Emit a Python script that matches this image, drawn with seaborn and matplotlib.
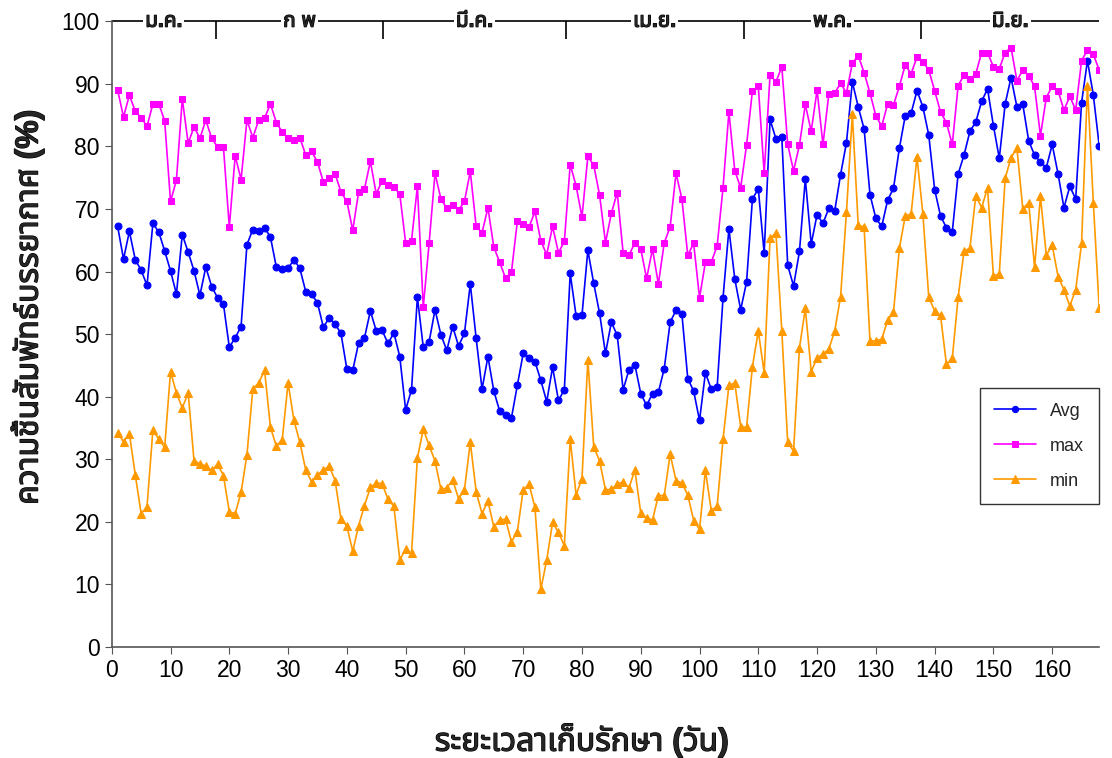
import numpy as np
import pandas as pd
import matplotlib
matplotlib.use("Agg")
import matplotlib.pyplot as plt
import matplotlib.patheffects as pe
import seaborn as sns

days = list(range(1, 169))

avg_rh = [
    67.2, 62.0, 66.4, 61.9, 60.2, 57.8, 67.7, 66.3, 63.3, 60.1,
    56.4, 65.9, 63.1, 60.1, 56.2, 60.7, 57.6, 55.8, 54.8, 47.9,
    49.4, 51.2, 64.3, 66.7, 66.5, 67.0, 65.5, 60.7, 60.4, 60.5,
    61.9, 60.5, 56.8, 56.4, 55.0, 51.1, 52.6, 51.6, 50.1, 44.4,
    44.2, 48.6, 49.4, 53.7, 50.5, 50.6, 48.5, 50.2, 46.4, 37.9,
    41.1, 55.9, 47.9, 48.8, 53.9, 49.9, 47.4, 51.2, 48.1, 50.1,
    58.0, 49.3, 41.2, 46.4, 40.9, 37.7, 37.0, 36.6, 41.8, 46.9,
    46.2, 45.6, 42.6, 39.2, 44.7, 39.4, 41.1, 59.7, 52.9, 53.0,
    63.4, 58.1, 53.3, 46.9, 51.9, 49.8, 41.1, 44.3, 45.1, 40.5,
    38.6, 40.5, 40.7, 44.5, 51.9, 53.8, 53.2, 42.9, 40.9, 36.2,
    43.8, 41.2, 41.6, 55.8, 66.8, 58.8, 53.9, 58.3, 71.6, 73.2,
    62.9, 84.3, 81.2, 81.5, 61.0, 57.7, 63.2, 74.8, 64.4, 69.1,
    67.7, 70.1, 69.7, 75.5, 80.6, 90.3, 86.3, 82.8, 72.3, 68.5,
    67.2, 71.4, 73.3, 79.7, 84.9, 85.3, 88.9, 86.3, 81.8, 73.1,
    68.9, 67.0, 66.3, 75.6, 78.6, 82.4, 83.9, 87.2, 89.2, 83.3,
    78.1, 86.8, 91.0, 86.3, 86.7, 80.9, 78.6, 77.5, 76.6, 80.3,
    75.6, 70.2, 73.6, 71.6, 87.0, 93.7, 88.2, 80.1,
]

max_rh = [
    89.0, 84.7, 88.2, 85.6, 84.6, 83.2, 86.8, 86.8, 84.1, 71.2,
    74.6, 87.6, 80.5, 83.1, 81.3, 84.2, 81.3, 79.9, 79.9, 67.1,
    78.5, 74.7, 84.2, 81.4, 84.2, 84.5, 86.8, 83.8, 82.3, 81.3,
    81.0, 81.4, 78.6, 79.2, 77.5, 74.3, 75.0, 75.6, 72.7, 71.2,
    66.6, 72.7, 73.2, 77.6, 72.4, 74.5, 73.9, 73.5, 72.4, 64.6,
    64.9, 73.6, 54.3, 64.6, 75.7, 71.6, 70.1, 70.6, 69.8, 71.2,
    76.0, 67.2, 66.2, 70.2, 63.9, 61.5, 58.9, 59.9, 68.0, 67.6,
    67.1, 69.6, 64.9, 62.7, 67.2, 63.0, 64.8, 77.1, 73.7, 68.7,
    78.4, 77.0, 72.2, 64.6, 69.3, 72.6, 63.0, 62.6, 64.6, 63.6,
    58.9, 63.6, 58.0, 64.6, 67.1, 75.7, 71.6, 62.6, 64.5, 55.8,
    61.5, 61.5, 64.1, 73.4, 85.5, 76.1, 73.4, 80.2, 88.9, 89.6,
    75.7, 91.4, 90.3, 92.7, 80.3, 76.1, 80.2, 86.7, 82.4, 89.0,
    80.3, 88.4, 88.5, 90.1, 88.5, 93.3, 94.5, 91.8, 88.5, 84.9,
    83.2, 86.8, 86.6, 89.6, 93.0, 91.6, 94.3, 93.5, 92.2, 88.9,
    85.5, 83.8, 80.3, 89.7, 91.4, 90.7, 91.6, 95.0, 95.0, 92.7,
    92.4, 95.0, 95.8, 90.5, 92.2, 91.3, 89.6, 81.7, 87.8, 89.6,
    88.9, 85.8, 88.0, 85.8, 93.7, 95.4, 94.7, 92.2,
]

min_rh = [
    34.2, 32.8, 34.1, 27.5, 21.3, 22.4, 34.7, 33.2, 31.9, 44.0,
    40.6, 38.2, 40.6, 29.7, 29.3, 28.9, 28.2, 29.2, 27.4, 21.6,
    21.3, 24.7, 30.7, 41.2, 42.2, 44.2, 35.1, 32.1, 33.1, 42.2,
    36.2, 32.7, 28.3, 26.4, 27.5, 28.3, 28.9, 26.6, 20.4, 19.3,
    15.3, 19.4, 22.6, 25.5, 26.2, 26.1, 23.6, 22.5, 13.9, 15.6,
    15.0, 30.2, 34.8, 32.2, 29.7, 25.2, 25.4, 26.7, 23.7, 25.1,
    32.7, 24.8, 21.3, 23.3, 19.2, 20.3, 20.4, 16.8, 18.4, 25.1,
    26.0, 22.3, 9.2, 13.9, 19.9, 18.3, 16.2, 33.2, 24.3, 26.9,
    45.9, 32.0, 29.7, 25.1, 25.2, 26.0, 26.4, 25.4, 28.3, 21.4,
    20.6, 20.3, 24.2, 24.2, 30.8, 26.6, 26.2, 24.3, 20.2, 18.8,
    28.2, 21.8, 22.5, 33.2, 41.8, 42.2, 35.2, 35.1, 44.8, 50.5,
    43.8, 65.3, 66.2, 50.5, 32.7, 31.3, 47.8, 54.1, 44.0, 46.2,
    46.8, 47.6, 50.5, 56.0, 69.5, 85.1, 67.4, 67.1, 48.9, 48.9,
    49.2, 52.2, 53.5, 63.7, 68.9, 69.2, 78.3, 69.2, 55.9, 53.7,
    53.0, 45.2, 46.1, 55.9, 63.3, 63.7, 72.1, 70.2, 73.4, 59.3,
    59.6, 74.9, 78.2, 79.7, 70.0, 71.0, 60.7, 72.0, 62.6, 64.2,
    59.2, 57.1, 54.5, 57.1, 64.5, 89.6, 71.0, 54.1,
]

month_labels = ["ม.ค.", "ก พ", "มี.ค.", "เม.ย.", "พ.ค.", "มิ.ย."]
month_edges = [0, 17.7, 46.2, 77.2, 107.5, 137.7, 168]

sns.set_style("ticks")
plt.rcParams["font.family"] = [
    "Liberation Sans", "Noto Sans Thai", "Noto Sans Thai UI", "Loma",
    "Garuda", "Tlwg Typo", "Noto Sans", "DejaVu Sans",
]

df = pd.DataFrame({"day": days, "Avg": avg_rh, "max": max_rh, "min": min_rh})

fig = plt.figure(figsize=(11.12, 7.58), dpi=100)
ax = fig.add_axes([0.1005, 0.1465, 0.888, 0.8255])

series = [
    ("Avg", "#0000FF", "o", 5),
    ("max", "#FF00FF", "s", 5),
    ("min", "#FF9900", "^", 6),
]
for name, color, marker, ms in series:
    sns.lineplot(
        data=df, x="day", y=name, ax=ax, color=color, marker=marker,
        markersize=ms, markeredgecolor=color, linewidth=1.2, label=name,
    )

ax.set_xlim(0, 168)
ax.set_ylim(0, 100)
ax.set_xticks(range(0, 161, 10))
ax.set_yticks(range(0, 101, 10))
ax.tick_params(axis="both", labelsize=16.5, direction="out", length=5,
               color="#555555", labelcolor="black")
for side in ["top", "right"]:
    ax.spines[side].set_visible(False)
for side in ["left", "bottom"]:
    ax.spines[side].set_color("#555555")
    ax.spines[side].set_linewidth(1.2)

# bold look for the Thai text (the Thai font has no bold face)
bold = [pe.withStroke(linewidth=0.9, foreground="black")]

# month bracket along the top
ax.hlines(100, month_edges[0], month_edges[-1], color="black", linewidth=1.2, clip_on=False)
for edge in month_edges[1:-1]:
    ax.vlines(edge, 97.2, 100, color="black", linewidth=1.2, clip_on=False)
for i, label in enumerate(month_labels):
    mid = (month_edges[i] + month_edges[i + 1]) / 2
    ax.text(
        mid, 100, label, ha="center", va="center", fontsize=15, fontweight="bold",
        bbox=dict(facecolor="white", edgecolor="none", pad=1.5), clip_on=False,
        path_effects=bold,
    )

xl = ax.set_xlabel("ระยะเวลาเก็บรักษา (วัน)", fontsize=23, fontweight="bold")
yl = ax.set_ylabel("ความชื้นสัมพัทธ์บรรยากาศ (%)", fontsize=23, fontweight="bold")
xl.set_path_effects(bold)
yl.set_path_effects(bold)
ax.xaxis.set_label_coords(0.476, -0.122)
ax.yaxis.set_label_coords(-0.068, 0.543)

leg = ax.legend(
    loc="upper left", bbox_to_anchor=(0.870, 0.428), fontsize=13, frameon=True,
    fancybox=False, edgecolor="black", handlelength=2.3, labelspacing=1.0,
    borderpad=0.8, markerscale=0.9,
)
leg.get_frame().set_linewidth(1.0)

fig.savefig("out.png", dpi=100)
